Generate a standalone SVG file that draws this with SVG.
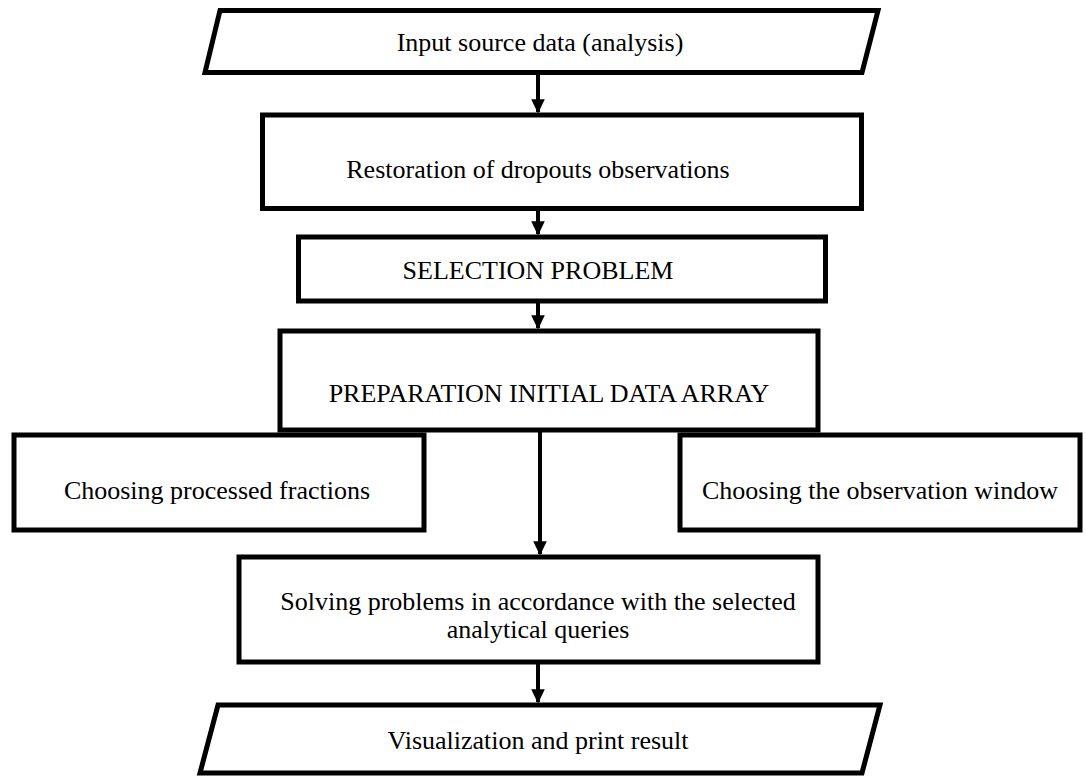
<svg xmlns="http://www.w3.org/2000/svg" width="1086" height="778" viewBox="0 0 1086 778">
<style>
.box{fill:#fff;stroke:#000;stroke-width:5}
.t{font-family:'Liberation Serif','Times New Roman',serif;font-size:26px;fill:#000;text-anchor:middle}
.c{stroke:#000;stroke-width:4;fill:none}
</style>
<defs>
<marker id="ah" markerWidth="4" markerHeight="4" refX="3.2" refY="2" orient="auto" markerUnits="strokeWidth">
<path d="M0,0.3 L3.6,2 L0,3.7 Z" fill="#000"/>
</marker>
</defs>
<rect width="1086" height="778" fill="#fff"/>
<g id="n1"><polygon class="box" points="220,10.5 878,10.5 862,72.5 205,72.5"/><text class="t" x="540" y="51">Input source data (analysis)</text></g>
<g id="n2"><rect class="box" x="262.5" y="115" width="599" height="93.5"/><text class="t" x="538" y="178">Restoration of dropouts observations</text></g>
<g id="n3"><rect class="box" x="298.5" y="237" width="527" height="64"/><text class="t" x="538" y="279">SELECTION PROBLEM</text></g>
<g id="n4"><rect class="box" x="280" y="331" width="538" height="99"/><text class="t" x="549" y="402">PREPARATION INITIAL DATA ARRAY</text></g>
<g id="n5"><rect class="box" x="14" y="435" width="410" height="95"/><text class="t" x="217" y="499">Choosing processed fractions</text></g>
<g id="n6"><rect class="box" x="680" y="435" width="400" height="95"/><text class="t" x="880" y="499">Choosing the observation window</text></g>
<g id="n7"><rect class="box" x="239" y="557" width="579" height="105"/><text class="t" x="538" y="610">Solving problems in accordance with the selected</text><text class="t" x="538" y="638">analytical queries</text></g>
<g id="n8"><polygon class="box" points="218,705 880,705 862,773 200,773"/><text class="t" x="538" y="749">Visualization and print result</text></g>
<g id="edges">
<line class="c" x1="538" y1="73" x2="538" y2="112" marker-end="url(#ah)"/>
<line class="c" x1="538" y1="208" x2="538" y2="234" marker-end="url(#ah)"/>
<line class="c" x1="538" y1="301" x2="538" y2="328" marker-end="url(#ah)"/>
<line class="c" x1="540" y1="430" x2="540" y2="554" marker-end="url(#ah)"/>
<line class="c" x1="538" y1="662" x2="538" y2="702" marker-end="url(#ah)"/>
</g>
</svg>
